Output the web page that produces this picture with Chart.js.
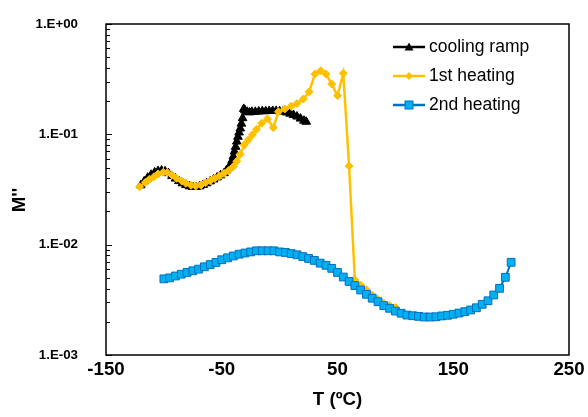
<!DOCTYPE html>
<html>
<head>
<meta charset="utf-8">
<script src="https://cdn.jsdelivr.net/npm/chart.js@4.4.1/dist/chart.umd.min.js"></script>
<style>
  html, body { margin: 0; padding: 0; background: #fff; }
  #wrap { position: relative; width: 588px; height: 417px; }
  #legend { position: absolute; left: 392px; top: 32px; font: 17.5px 'Liberation Sans', Arial, sans-serif; color: #000; }
  .row { display: flex; align-items: center; height: 29px; white-space: nowrap; }
  .row svg { margin-right: 3px; }
</style>
</head>
<body>
<div id="wrap">
  <canvas id="chart" width="588" height="417"></canvas>
  <div id="legend"></div>
</div>
<script>
(function () {
  'use strict';

  // cooling ramp (T in ºC, M'')
  const coolT = [-120, -117, -114, -111, -108, -105, -102, -99, -96, -93, -90, -87, -84, -81, -78, -75, -72, -69, -66, -63, -60, -57, -54, -51, -48,
    -46, -44, -42, -41, -40, -39, -38, -37, -36, -35, -34, -33, -32, -31, -30, -28, -26, -24,
    -21, -18, -15, -12, -9, -6, -3, 0, 3, 6, 9, 12, 15, 18, 21, 23];
  const coolM = [0.0345, 0.0375, 0.0405, 0.043, 0.0452, 0.0465, 0.047, 0.0462, 0.0445, 0.042, 0.0397, 0.0377, 0.036, 0.0347, 0.0338, 0.0333, 0.0333, 0.0338, 0.0348, 0.036, 0.0375, 0.039, 0.0407, 0.0425, 0.0445,
    0.047, 0.05, 0.054, 0.058, 0.063, 0.07, 0.077, 0.086, 0.095, 0.104, 0.113, 0.125, 0.14, 0.17, 0.165, 0.16, 0.158, 0.16,
    0.16, 0.161, 0.162, 0.162, 0.163, 0.163, 0.163, 0.162, 0.161, 0.158, 0.154, 0.15, 0.145, 0.139, 0.133, 0.13];

  // 1st heating
  const heat1T = [-121, -116, -112.5, -108.5, -105, -100.5, -97, -93, -89, -84.5, -81, -76.5, -72.5, -68, -64, -60, -56, -52, -48, -44,
    -40, -37, -34, -30.5, -27, -23.5, -20, -15.5, -10.5, -5.5, -1, 4.5, 10, 15, 20.5, 25.5, 30.5, 35.5, 40, 45,
    50, 55, 60, 65, 70, 75, 80, 85, 90, 95, 100];
  const heat1M = [0.0335, 0.0367, 0.0391, 0.0413, 0.0437, 0.0453, 0.0449, 0.0428, 0.0399, 0.0377, 0.036, 0.0345, 0.034, 0.0347, 0.0365, 0.038, 0.0399, 0.0419, 0.0443, 0.047,
    0.051, 0.057, 0.066, 0.08, 0.089, 0.099, 0.111, 0.126, 0.138, 0.115, 0.16, 0.17, 0.18, 0.19, 0.209, 0.243, 0.352, 0.377, 0.352, 0.286,
    0.224, 0.357, 0.0516, 0.0048, 0.0043, 0.0039, 0.0035, 0.0032, 0.00295, 0.0028, 0.0027];

  // 2nd heating
  const heat2T = [-100, -95, -90, -85, -80, -75, -70, -65, -60, -55, -50, -45, -40, -35, -30, -25, -20, -15, -10, -5,
    0, 5, 10, 15, 20, 25, 30, 35, 40, 45, 50, 55, 60, 65, 70, 75, 80, 85, 90, 95,
    100, 105, 110, 115, 120, 125, 130, 135, 140, 145, 150, 155, 160, 165, 170, 175, 180, 185, 190, 195, 200];
  const heat2M = [0.0049, 0.005, 0.0052, 0.0054, 0.0056, 0.0058, 0.006, 0.0063, 0.0066, 0.0069,
    0.0073, 0.0076, 0.0079, 0.0082, 0.0084, 0.0086, 0.0088, 0.0088, 0.0088, 0.0088,
    0.0086, 0.0085, 0.0083, 0.0081, 0.0078, 0.0075, 0.0072, 0.0068, 0.0065, 0.0061,
    0.0056, 0.00509, 0.00464, 0.00426, 0.00388, 0.00355, 0.00327, 0.00304, 0.0028, 0.00265,
    0.0025, 0.00239, 0.0023, 0.00227, 0.00224, 0.00221, 0.00221, 0.00222, 0.00226, 0.00229,
    0.00234, 0.0024, 0.00247, 0.00256, 0.00268, 0.00288, 0.0031, 0.0035, 0.00402, 0.00506,
    0.00692];

  const seriesNames = ['cooling ramp', '1st heating', '2nd heating'];
  const xMin = -150, xMax = 250, xStep = 100;
  const yDecades = [0.001, 0.01, 0.1, 1];

  const pts = (xs, ys) => xs.map((x, i) => ({ x: x, y: ys[i] }));

  function sciLabel(v) {
    const e = Math.round(Math.log10(v));
    return '1.E' + (e < 0 ? '-' : '+') + String(Math.abs(e)).padStart(2, '0');
  }

  const frame = {
    id: 'frame',
    afterDraw(chart) {
      const { ctx, chartArea: a, scales } = chart;
      const y = scales.y;
      ctx.save();
      ctx.strokeStyle = '#000';
      ctx.lineWidth = 1.5;
      ctx.strokeRect(a.left, a.top, a.right - a.left, a.bottom - a.top);
      // inside ticks, majors on decades and minors at 2..9
      ctx.lineWidth = 1;
      yDecades.forEach((d, i) => {
        let py = Math.round(y.getPixelForValue(d)) + 0.5;
        ctx.beginPath(); ctx.moveTo(a.left, py); ctx.lineTo(a.left + 6, py); ctx.stroke();
        if (i === yDecades.length - 1) return;
        for (let k = 2; k <= 9; k++) {
          py = Math.round(y.getPixelForValue(d * k)) + 0.5;
          ctx.beginPath(); ctx.moveTo(a.left, py); ctx.lineTo(a.left + 4, py); ctx.stroke();
        }
      });
      // y axis title
      ctx.translate(20, 200);
      ctx.rotate(-Math.PI / 2);
      ctx.font = 'bold 18.7px "Liberation Sans", Arial, sans-serif';
      ctx.fillStyle = '#000';
      ctx.textAlign = 'center';
      ctx.textBaseline = 'middle';
      ctx.fillText("M''", 0, 0);
      ctx.restore();
    }
  };

  Chart.defaults.font.family = '"Liberation Sans", Arial, sans-serif';
  Chart.defaults.color = '#000';

  new Chart(document.getElementById('chart'), {
    type: 'line',
    data: {
      datasets: [
        {
          label: seriesNames[0],
          data: pts(coolT, coolM),
          order: 3,
          borderColor: '#000',
          backgroundColor: '#000',
          borderWidth: 3,
          pointStyle: 'triangle',
          pointRadius: 5,
          pointBorderWidth: 1
        },
        {
          label: seriesNames[1],
          data: pts(heat1T, heat1M),
          order: 2,
          borderColor: '#FFC000',
          backgroundColor: '#FFC000',
          borderWidth: 2.5,
          pointStyle: 'rectRot',
          pointRadius: 4,
          pointBorderWidth: 1
        },
        {
          label: seriesNames[2],
          data: pts(heat2T, heat2M),
          order: 1,
          borderColor: '#0070C0',
          backgroundColor: '#00B0F0',
          pointBorderColor: '#0070C0',
          borderWidth: 2,
          pointStyle: 'rect',
          pointRadius: 5.5,
          pointBorderWidth: 1
        }
      ]
    },
    options: {
      responsive: false,
      animation: false,
      layout: { padding: { left: 0, right: 19, top: 24, bottom: 0 } },
      plugins: { legend: { display: false }, tooltip: { enabled: false } },
      scales: {
        x: {
          type: 'linear',
          min: xMin,
          max: xMax,
          grid: { display: false, drawTicks: false },
          border: { display: false },
          ticks: { stepSize: xStep, padding: 4, font: { size: 18.7, weight: 'bold' } },
          title: { display: true, text: 'T (ºC)', padding: { top: 0, bottom: 6 }, font: { size: 18.7, weight: 'bold' } },
          afterFit(s) { s.height = 62; s.paddingLeft = 0; s.paddingRight = 0; }
        },
        y: {
          type: 'logarithmic',
          min: yDecades[0],
          max: yDecades[yDecades.length - 1],
          grid: { display: false, drawTicks: false },
          border: { display: false },
          ticks: {
            autoSkip: false,
            padding: 28,
            font: { size: 13.3, weight: 'bold' },
            callback: (v) => {
              const e = Math.log10(v);
              return Math.abs(e - Math.round(e)) < 1e-6 ? sciLabel(v) : '';
            }
          },
          afterFit(s) { s.width = 106; s.paddingTop = 0; s.paddingBottom = 0; }
        }
      }
    },
    plugins: [frame]
  });

  // legend inside plot, line + marker like the spreadsheet one
  const icons = [
    '<line x1="1" y1="6" x2="33" y2="6" stroke="#000" stroke-width="2.5"/><polygon points="17,1.5 21.5,9.5 12.5,9.5" fill="#000"/>',
    '<line x1="1" y1="6" x2="33" y2="6" stroke="#FFC000" stroke-width="2.5"/><polygon points="17,2 21,6 17,10 13,6" fill="#FFC000"/>',
    '<line x1="1" y1="6" x2="33" y2="6" stroke="#0070C0" stroke-width="2.5"/><rect x="13" y="2" width="8" height="8" fill="#00B0F0" stroke="#0070C0" stroke-width="1"/>'
  ];
  document.getElementById('legend').innerHTML = seriesNames.map((n, i) =>
    '<div class="row"><svg width="34" height="12">' + icons[i] + '</svg><span>' + n + '</span></div>'
  ).join('');
})();
</script>
</body>
</html>
